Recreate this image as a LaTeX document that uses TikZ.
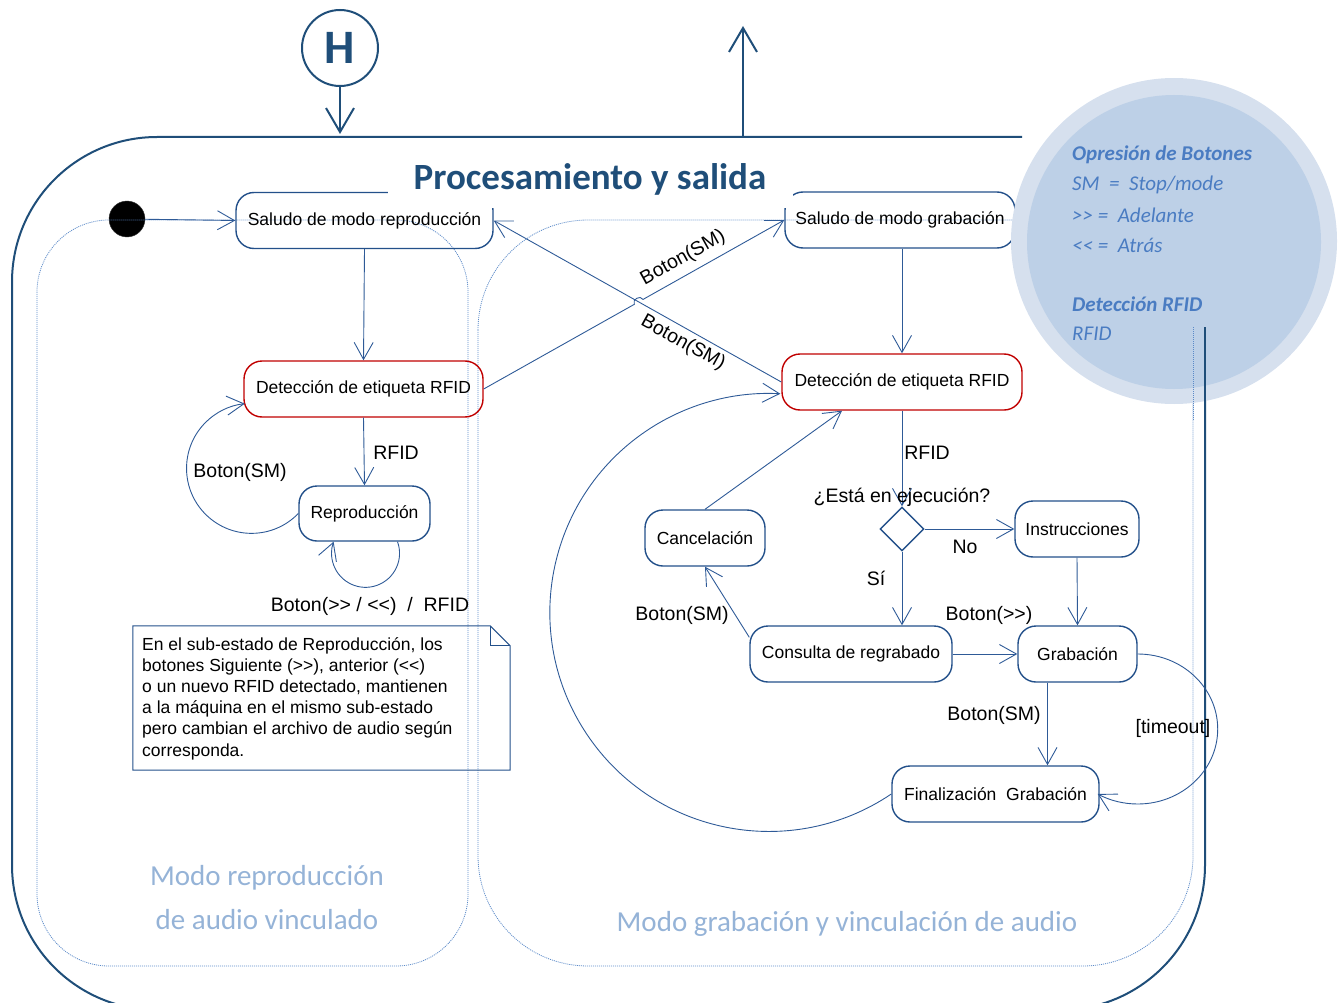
\documentclass[tikz,border=0pt]{standalone}
\usepackage{fontspec}
\setmainfont{Liberation Sans}
\newfontfamily\calfont{Carlito}
\usetikzlibrary{arrows.meta,shapes.geometric,calc}

\definecolor{lnc}{HTML}{2E5A97}
\definecolor{bdc}{HTML}{23508A}
\definecolor{redc}{HTML}{C00000}
\definecolor{ttl}{HTML}{1F4E79}
\definecolor{reg}{HTML}{95B3D7}
\definecolor{dotc}{HTML}{5B8AC8}
\definecolor{lgo}{HTML}{D6E0EE}
\definecolor{lgi}{HTML}{BDD0E7}
\definecolor{lgt}{HTML}{4A7CC2}

\newcommand{\boxfont}{\fontsize{17.5}{21.2}\selectfont}
\newcommand{\lblfont}{\fontsize{19.5}{23}\selectfont}

\begin{document}
\begin{tikzpicture}[x=1pt,y=-1pt,
  stbox/.style={draw=bdc, line width=1.4pt, rounded corners=18, inner sep=0pt, font=\boxfont, text=black},
  redbox/.style={stbox, draw=redc},
  arr/.style={draw=lnc, line width=0.9pt, -{Straight Barb[length=17pt,width=19pt]}},
  bigarr/.style={draw=ttl, line width=2pt, -{Straight Barb[length=24pt,width=28pt]}},
  lbl/.style={font=\lblfont, text=black, inner sep=0pt},
  region/.style={draw=dotc, line width=0.8pt, dash pattern=on 1pt off 1pt},
  regtext/.style={font=\calfont\fontsize{29}{35}\selectfont, text=reg, inner sep=0pt},
  lgtext/.style={font=\calfont\itshape\fontsize{21}{25}\selectfont, text=lgt, anchor=west, inner sep=0pt},
  lghead/.style={lgtext, font=\calfont\bfseries\itshape\fontsize{21}{25}\selectfont},
]
\useasboundingbox (0,0) rectangle (1343,1003);
\clip (0,0) rectangle (1343,1003);

% composite state outline
\draw[ttl, line width=2pt, rounded corners=145]
  (1205,327) -- (1205,1010) -- (12,1010) -- (12,137) -- (1022,137);

% initial pseudo-state
\node[circle, fill=black, draw=black!80, minimum size=36, inner sep=0] (init) at (127,219) {};

% sub-regions
\draw[region, rounded corners=72] (37,220) rectangle (468,966);
\draw[region, rounded corners=110] (478,220) rectangle (1193,966);
\node[regtext] (reglA) at (267,878) {Modo reproducción};
\node[regtext] (reglB) at (267,920) {de audio vinculado};
\node[regtext] (regr) at (847,924) {Modo grabación y vinculación de audio};

% playback mode states
\node[stbox, minimum width=257, minimum height=56] (sr) at (364.5,220.5) {Saludo de modo reproducción};
\node[redbox, minimum width=239, minimum height=56] (d1) at (363.5,389) {Detección de etiqueta RFID};
\node[stbox, minimum width=131, minimum height=55] (rep) at (364.5,513.5) {Reproducción};

% recording mode states
\node[stbox, minimum width=230, minimum height=56] (sg) at (900,220) {Saludo de modo grabación};
\node[redbox, minimum width=240, minimum height=56] (d2) at (902,382) {Detección de etiqueta RFID};
\node[diamond, draw=bdc, line width=1.4pt, minimum width=44, minimum height=44, inner sep=0] (dia) at (902,529) {};
\node[stbox, minimum width=124, minimum height=56] (ins) at (1077,529) {Instrucciones};
\node[stbox, minimum width=120, minimum height=56] (can) at (705,538) {Cancelación};
\node[stbox, minimum width=202, minimum height=56] (con) at (851,654) {Consulta de regrabado};
\node[stbox, minimum width=119, minimum height=56] (gra) at (1077.5,654) {Grabación};
\node[stbox, minimum width=207, minimum height=56] (fin) at (995.5,794) {Finalización\ \ Grabación};

% note
\node[minimum width=377, minimum height=144, inner sep=0] (note) at (321.5,698) {};
\draw[bdc, line width=1pt] (note.north west) -- ([xshift=-20]note.north east)
  -- ([yshift=-20]note.north east) -- (note.south east) -- (note.south west) -- cycle;
\draw[bdc, line width=1pt] ([xshift=-20]note.north east) |- ([yshift=-20]note.north east);
\node[anchor=north west, align=left, inner sep=0, font=\boxfont] (notetext) at (142,637)
 {En el sub-estado de Reproducción, los\\
  botones Siguiente (>{}>), anterior (<{}<)\\
  o un nuevo RFID detectado, mantienen\\
  a la máquina en el mismo sub-estado\\
  pero cambian el archivo de audio según\\
  corresponda.};

% playback transitions
\draw[arr] (init) -- (sr.west);
\draw[arr] (sr.south) -- (d1.north);
\draw[arr] (d1.south) -- (rep.north);
\node[lbl] at (396,453) {RFID};
\draw[arr] (rep.west) arc[start angle=44, end angle=264, radius=65];
\node[lbl] at (240,472) {Boton(SM)};
\draw[arr] ([xshift=33]rep.south) arc[start angle=-20, end angle=200, radius=34];
\node[lbl] at (370,606) {Boton(>{}> / <{}<)\ \ /\ \ RFID};

% mode switching transitions (with a hop at the crossing)
\draw[arr] (d2.west) -- (sr.east);
\coordinate (hopa) at ($(d1.east)!0.501!(sg.west)$);
\coordinate (hopb) at ($(d1.east)!0.530!(sg.west)$);
\coordinate (hc1) at ($(hopa)+(-2.6,-4.8)$);
\coordinate (hc2) at ($(hopb)+(-2.6,-4.8)$);
\draw[arr] (d1.east) -- (hopa) .. controls (hc1) and (hc2) .. (hopb) -- (sg.west);
\node[lbl, rotate=29] at (683,258) {Boton(SM)};
\node[lbl, rotate=-29] at (683,343) {Boton(SM)};

% recording transitions
\draw[arr] (d2.north |- sg.south) -- (d2.north);
\draw[arr] (d2.south) -- (dia.north);
\node[lbl] at (927,453) {RFID};
\node[lbl] at (902,497) {¿Está en ejecución?};
\draw[arr] (dia.east) -- (ins.west);
\node[lbl] at (965,547) {No};
\draw[arr] (dia.south) -- (dia.south |- con.north);
\node[lbl] at (876,578) {Sí};
\draw[arr] (ins.south) -- (gra.north);
\draw[arr] (con.east) -- (gra.west);
\node[lbl] at (989,615) {Boton(>{}>)};
\draw[arr] ([xshift=-30]gra.south) -- ([xshift=-30]gra.south |- fin.north);
\node[lbl] at (994,715) {Boton(SM)};
\draw[arr] (gra.east) arc[start angle=-90, end angle=120, x radius=80, y radius=75];
\node[lbl] at (1173,728) {[timeout]};
\draw[arr] ([yshift=-12]con.north west) -- (can.south);
\node[lbl] at (682,615) {Boton(SM)};
\draw[arr] (can.north) -- ([xshift=-60]d2.south);
\draw[arr] (fin.west) arc[start angle=56, end angle=273, radius=219];

% title
\node[fill=white, inner sep=0, minimum width=405, minimum height=58, text=ttl,
  font=\calfont\bfseries\fontsize{37}{44}\selectfont] (title) at (590,179) {Procesamiento y salida};

% history pseudo-state and exit
\node[circle, draw=ttl, line width=2pt, minimum size=76, inner sep=0, text=ttl,
  font=\calfont\bfseries\fontsize{48}{56}\selectfont] (hist) at (340,48) {H};
\coordinate (hend) at (340,134);
\draw[bigarr] (hist.south) -- (hend);
\coordinate (ubase) at (743,137);
\coordinate (utip) at (743,26);
\draw[bigarr] (ubase) -- (utip);

% legend
\node[circle, fill=lgo, minimum size=326, inner sep=0] (lgout) at (1174,241) {};
\node[circle, fill=lgi, minimum size=294, inner sep=0] (lgin) at (1174,242) {};
\node[lghead] at (1072,155) {Opresión de Botones};
\node[lgtext] at (1072,185) {SM\ \ =\ \ Stop/mode};
\node[lgtext] at (1072,215) {>{}>\ =\ \ Adelante};
\node[lgtext] at (1072,245) {<{}<\ =\ \ Atrás};
\node[lghead] at (1072,304) {Detección RFID};
\node[lgtext] at (1072,334) {RFID};
\draw[ttl, line width=2pt] (1205,327) -- (1205,420);
\draw[region] (1193,327) -- (1193,420);
\end{tikzpicture}
\end{document}
